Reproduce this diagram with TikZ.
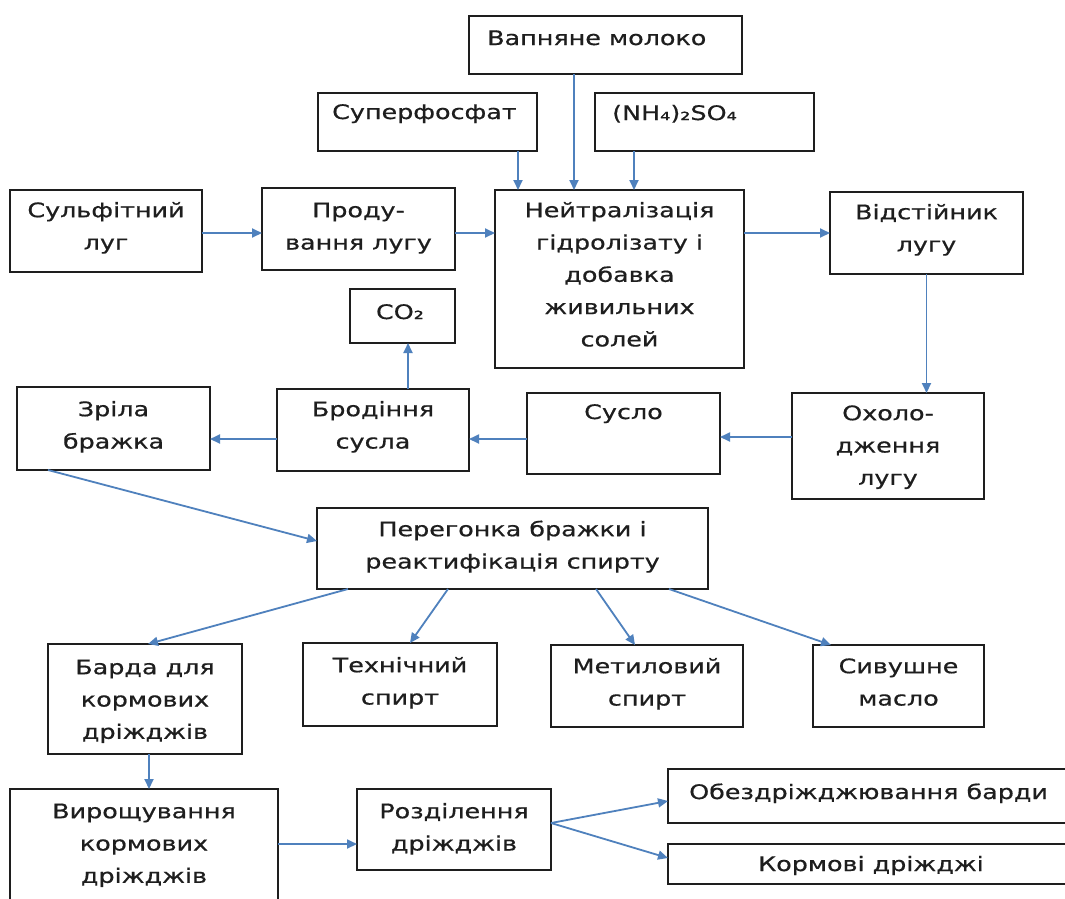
\documentclass[tikz,border=0pt]{standalone}
\usepackage{fontspec}
\setmainfont[FakeStretch=1.27,FakeBold=0.6]{DejaVu Sans}
\usetikzlibrary{arrows.meta}
\definecolor{arrblue}{RGB}{79,129,189}
\definecolor{ink}{RGB}{30,30,30}
\tikzset{
  bx/.style={draw=ink, line width=2pt, inner sep=0pt, outer sep=0pt, anchor=north west},
  lbl/.style={inner sep=0pt, text=ink, font=\fontsize{20}{32.3}\selectfont, align=center},
  arr/.style={draw=arrblue, line width=1.8pt, -{Triangle[length=10pt,width=9pt]}},
}
\begin{document}
\begin{tikzpicture}[x=1pt,y=-1pt]
\fill[white] (0,0) rectangle (1065,898);
\clip (0,0) rectangle (1065,898);
% boxes
\node[bx, minimum width=273pt, minimum height=58pt] (vap) at (469,16) {};
\node[bx, minimum width=219pt, minimum height=58pt] (sup) at (318,93) {};
\node[bx, minimum width=219pt, minimum height=58pt] (nh) at (595,93) {};
\node[bx, minimum width=192pt, minimum height=82pt] (sulf) at (10,190) {};
\node[bx, minimum width=193pt, minimum height=82pt] (prod) at (262,188) {};
\node[bx, minimum width=249pt, minimum height=178pt] (neut) at (495,190) {};
\node[bx, minimum width=193pt, minimum height=82pt] (vid) at (830,192) {};
\node[bx, minimum width=105pt, minimum height=54pt] (co2) at (350,289) {};
\node[bx, minimum width=193pt, minimum height=83pt] (zril) at (17,387) {};
\node[bx, minimum width=192pt, minimum height=82pt] (brod) at (277,389) {};
\node[bx, minimum width=193pt, minimum height=81pt] (suslo) at (527,393) {};
\node[bx, minimum width=192pt, minimum height=106pt] (oxol) at (792,393) {};
\node[bx, minimum width=391pt, minimum height=81pt] (pereg) at (317,508) {};
\node[bx, minimum width=194pt, minimum height=110pt] (barda) at (48,644) {};
\node[bx, minimum width=194pt, minimum height=83pt] (tech) at (303,643) {};
\node[bx, minimum width=192pt, minimum height=82pt] (metyl) at (551,645) {};
\node[bx, minimum width=171pt, minimum height=82pt] (syv) at (813,645) {};
\node[bx, minimum width=268pt, minimum height=130pt] (vyr) at (10,789) {};
\node[bx, minimum width=194pt, minimum height=81pt] (rozd) at (357,789) {};
\node[bx, minimum width=407pt, minimum height=54pt] (obez) at (668,769) {};
\node[bx, minimum width=407pt, minimum height=40pt] (korm) at (668,844) {};
% labels
\node[lbl, anchor=base west] (vap-t) at (487,45) {Вапняне молоко};
\node[lbl, anchor=base west] (sup-t) at (332,119) {Суперфосфат};
\node[lbl, anchor=base west] (nh-t) at (612,120) {(NH₄)₂SO₄};
\node[lbl, anchor=north] (sulf-t) at (106,194.4) {\strut Сульфітний\\луг};
\node[lbl, anchor=north] (prod-t) at (358.5,194.4) {\strut Проду-\\вання лугу};
\node[lbl, anchor=north] (neut-t) at (619.5,194.4) {\strut Нейтралізація\\гідролізату і\\добавка\\живильних\\солей};
\node[lbl, anchor=north] (vid-t) at (926.5,196.4) {\strut Відстійник\\лугу};
\node[lbl, anchor=base] (co2-t) at (400,319) {CO₂};
\node[lbl, anchor=north] (zril-t) at (113.5,393.4) {\strut Зріла\\бражка};
\node[lbl, anchor=north] (brod-t) at (373,393.4) {\strut Бродіння\\сусла};
\node[lbl, anchor=base] (suslo-t) at (623.5,419) {Сусло};
\node[lbl, anchor=north] (oxol-t) at (888,397.4) {\strut Охоло-\\дження\\лугу};
\node[lbl, anchor=north] (pereg-t) at (512.5,513.4) {\strut Перегонка бражки і\\реактифікація спирту};
\node[lbl, anchor=north] (barda-t) at (145,651.4) {\strut Барда для\\кормових\\дріжджів};
\node[lbl, anchor=north] (tech-t) at (400,649.4) {\strut Технічний\\спирт};
\node[lbl, anchor=north] (metyl-t) at (647,650.4) {\strut Метиловий\\спирт};
\node[lbl, anchor=north] (syv-t) at (898.5,650.4) {\strut Сивушне\\масло};
\node[lbl, anchor=north] (vyr-t) at (144,795.4) {\strut Вирощування\\кормових\\дріжджів};
\node[lbl, anchor=north] (rozd-t) at (454,795.4) {\strut Розділення\\дріжджів};
\node[lbl, anchor=base west] (obez-t) at (689,799) {Обездріжджювання барди};
\node[lbl, anchor=base] (korm-t) at (871,871) {Кормові дріжджі};
% connectors
\draw[arr] ([yshift=-2pt]sulf.east) coordinate (a1) -- (a1 -| prod.west);
\draw[arr] ([yshift=-4pt]prod.east) coordinate (a2) -- (a2 -| neut.west);
\draw[arr] (vid.west -| neut.east) -- (vid.west);
\draw[arr] ([xshift=-19pt]sup.south east) coordinate (a4) -- (a4 |- neut.north);
\draw[arr] ([xshift=-31.5pt]vap.south) coordinate (a5) -- (a5 |- neut.north);
\draw[arr] ([xshift=39pt]nh.south west) coordinate (a6) -- (a6 |- neut.north);
\draw[arr] (vid.south) -- (vid.south |- oxol.north);
\draw[arr] ([yshift=9pt]oxol.west) coordinate (a8) -- (a8 -| suslo.east);
\draw[arr] ([yshift=-5.5pt]suslo.west) coordinate (a9) -- (a9 -| brod.east);
\draw[arr] ([yshift=-9pt]brod.west) coordinate (a10) -- (a10 -| zril.east);
\draw[arr] ([xshift=35pt]brod.north) coordinate (a11) -- (a11 |- co2.south);
\draw[arr] ([xshift=31pt]zril.south west) -- ([yshift=7.5pt]pereg.west);
\draw[arr] ([xshift=31pt]pereg.south west) -- ([xshift=3pt]barda.north);
\draw[arr] ([xshift=-64.5pt]pereg.south) -- ([xshift=10pt]tech.north);
\draw[arr] ([xshift=83.5pt]pereg.south) -- ([xshift=-12pt]metyl.north);
\draw[arr] ([xshift=-39pt]pereg.south east) -- ([xshift=18pt]syv.north west);
\draw[arr] ([xshift=4pt]barda.south) coordinate (a17) -- (a17 |- vyr.north);
\draw[arr] ([yshift=10pt]vyr.east) coordinate (a18) -- (a18 -| rozd.west);
\draw[arr] ([yshift=6.5pt]rozd.east) -- ([yshift=-5pt]obez.west);
\draw[arr] ([yshift=6.5pt]rozd.east) -- ([yshift=6pt]korm.west);
\end{tikzpicture}
\end{document}
